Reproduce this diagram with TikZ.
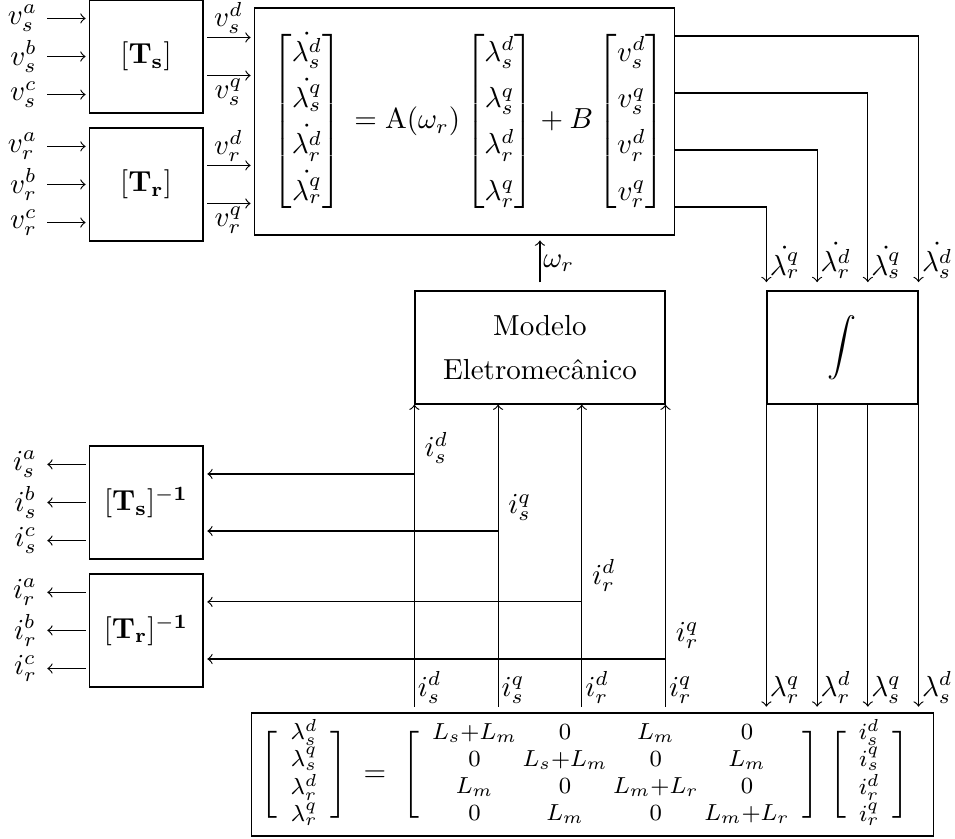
\documentclass[tikz,border=0pt]{standalone}
\usepackage{amsmath}
\usepackage{array}
\usetikzlibrary{calc}
\newcolumntype{C}{>{\large$\scriptstyle}c<{$}}
\begin{document}
\begin{tikzpicture}[
  blk/.style={draw, minimum width=1.38cm, minimum height=1.37cm},
  lbl/.style={inner sep=1pt}
]
  \useasboundingbox (0,0) rectangle (11.576,-10.158);
  % Transformation blocks
  \node[blk] (Ts) at (1.77,-0.685) {$[\mathbf{T_s}]$};
  \node[blk] (Tr) at (1.77,-2.236) {$[\mathbf{T_r}]$};
  \node[blk] (Tsi) at (1.77,-6.091) {$[\mathbf{T_s}]^{\mathbf{-1}}$};
  \node[blk] (Tri) at (1.77,-7.642) {$[\mathbf{T_r}]^{\mathbf{-1}}$};
  % State equation
  \node[draw, minimum width=5.08cm, minimum height=2.75cm] (eq) at (5.63,-1.473)
    {\renewcommand{\arraystretch}{1.33}\hspace*{3pt}$\begin{bmatrix}
      \dot{\lambda^d_s}\\ \dot{\lambda^q_s}\\ \dot{\lambda^d_r}\\ \dot{\lambda^q_r}
    \end{bmatrix}\, = \mathrm{A}(\omega_r) \begin{bmatrix}
      \lambda^d_s\\ \lambda^q_s\\ \lambda^d_r\\ \lambda^q_r
    \end{bmatrix} + B \begin{bmatrix}
      v^d_s\\ v^q_s\\ v^d_r\\ v^q_r
    \end{bmatrix}$};
  % Electromechanical model and integrator
  \node[blk, minimum width=3.03cm, align=center] (mod) at (6.545,-4.212)
    {Modelo\\[3pt]Eletromec\^anico};
  \node[blk, minimum width=1.83cm] (int) at (10.212,-4.212) {$\displaystyle\int$};
  % Flux-current relation
  \node[draw, minimum width=8.13cm, minimum height=1.49cm, inner ysep=1pt] (bot) at (7.182,-9.388)
    {\renewcommand{\arraystretch}{0.78}%
    $\Biggl[\;\,\begin{tabular}{@{}C@{}}
      \lambda_s^d\\ \lambda_s^q\\ \lambda_r^d\\ \lambda_r^q
    \end{tabular}\;\,\Biggr] \;=\; \Biggl[\;\,\begin{tabular}{@{}C@{\hspace{2pt}}C@{\hspace{2pt}}C@{\hspace{2pt}}C@{}}
      L_s+L_m & 0 & L_m & 0\\
      0 & L_s+L_m & 0 & L_m\\
      L_m & 0 & L_m+L_r & 0\\
      0 & L_m & 0 & L_m+L_r
    \end{tabular}\;\,\Biggr]\ \Biggl[\;\,\begin{tabular}{@{}C@{}}
      i_s^d\\ i_s^q\\ i_r^d\\ i_r^q
    \end{tabular}\;\,\Biggr]\hspace*{5pt}$};

  % Phase voltages in
  \foreach \bx/\x in {Ts/s,Tr/r}
    \foreach \p/\f in {a/1,b/3,c/5} {
      \node[left] (v\x\p) at ($(\bx.north west)!\f/6!(\bx.south west)+(-0.5,0)$) {$v_{\x}^{\p}$};
      \draw[->, shorten >=1pt] (v\x\p) -- (v\x\p -| \bx.west);
    }
  % dq voltages
  \foreach \bx/\x in {Ts/s,Tr/r} {
    \coordinate (v\x d) at ($(\bx.north east)!1/3!(\bx.south east)$);
    \coordinate (v\x q) at ($(\bx.north east)!2/3!(\bx.south east)$);
    \draw[->, shorten <=1.3pt, shorten >=1pt] (v\x d) -- (v\x d -| eq.west)
      node[midway, above, lbl] {$v_{\x}^{d}$};
    \draw[->, shorten <=1.3pt, shorten >=1pt] (v\x q) -- (v\x q -| eq.west)
      node[midway, below, lbl] {$v_{\x}^{q}$};
  }
  % Flux derivatives to integrator
  \foreach \f/\g/\a/\b in {1/3/s/d, 3/2/s/q, 5/1/r/d, 7/0/r/q}
    \draw[->] ($(eq.north east)!\f/8!(eq.south east)$)
      -| ($(int.north west)!\g/3!(int.north east)+(0,0.1)$)
      node[above right, lbl] {$\dot{\lambda^{\b}_{\a}}$};
  % Fluxes out of integrator
  \foreach \g/\a/\b in {0/r/q, 1/r/d, 2/s/q, 3/s/d} {
    \coordinate (l\g) at ($(int.south west)!\g/3!(int.south east)$);
    \draw[->] (l\g) -- ($(l\g |- bot.north)+(0,0.07)$)
      node[above right, lbl] {$\lambda^{\b}_{\a}$};
  }
  % Speed
  \draw[->, shorten <=2.8pt, shorten >=1.7pt] (mod.north) -- (mod.north |- eq.south)
    node[midway, right, lbl] {$\omega_r$};
  % Currents into the model
  \foreach \g/\n/\a/\b in {0/isd/s/d, 1/isq/s/q, 2/ird/r/d, 3/irq/r/q} {
    \coordinate (\n) at ($(mod.south west)!\g/3!(mod.south east)$);
    \draw[<-] (\n) -- ($(\n |- bot.north)+(0,0.07)$)
      node[above right, lbl] {$i_{\a}^{\b}$};
  }
  % Currents back to the inverse transforms
  \foreach \n/\bx/\f/\a/\b in {isd/Tsi/1/s/d, isq/Tsi/3/s/q, ird/Tri/1/r/d, irq/Tri/3/r/q} {
    \coordinate (h\n) at ($(\bx.north east)!\f/4!(\bx.south east)$);
    \draw[->, shorten >=1.3pt] (\n |- h\n) node[above right] {$i_{\a}^{\b}$} -- (h\n);
  }
  % Phase currents out
  \foreach \bx/\x in {Tsi/s,Tri/r}
    \foreach \p/\f in {a/1,b/3,c/5} {
      \node[left] (i\x\p) at ($(\bx.north west)!\f/6!(\bx.south west)+(-0.5,0)$) {$i_{\x}^{\p}$};
      \draw[->, shorten <=1pt] (i\x\p -| \bx.west) -- (i\x\p);
    }
\end{tikzpicture}
\end{document}
